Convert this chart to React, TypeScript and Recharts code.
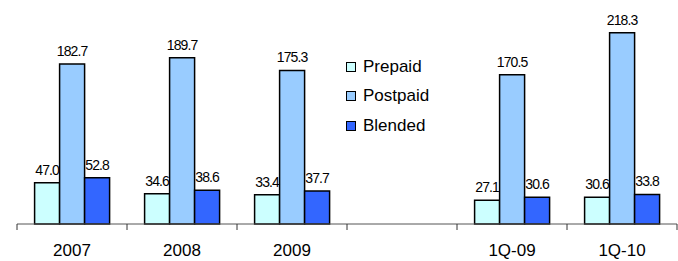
import { BarChart, Bar, XAxis, YAxis, LabelList, Legend } from 'recharts';

const categories = ['2007', '2008', '2009', '', '1Q-09', '1Q-10'];
const prepaid = [47.0, 34.6, 33.4, null, 27.1, 30.6];
const postpaid = [182.7, 189.7, 175.3, null, 170.5, 218.3];
const blended = [52.8, 38.6, 37.7, null, 30.6, 33.8];

const SERIES = [
  { key: 'prepaid', name: 'Prepaid', color: '#CCFFFF' },
  { key: 'postpaid', name: 'Postpaid', color: '#99CCFF' },
  { key: 'blended', name: 'Blended', color: '#3366FF' },
];

const data = categories.map((c, i) => ({
  name: c,
  prepaid: prepaid[i],
  postpaid: postpaid[i],
  blended: blended[i],
}));

const WIDTH = 678;
const HEIGHT = 261;
const MARGIN = { top: 5, right: 1, bottom: 0, left: 17 };
const BAND = (WIDTH - MARGIN.left - MARGIN.right) / categories.length;

const FONT = 'Arial, "Liberation Sans", sans-serif';

function CategoryTick(props: any) {
  const { x, y, payload, index } = props;
  const left = x - BAND / 2;
  const top = y - 8;
  return (
    <g>
      <line x1={left} y1={top} x2={left} y2={top + 6} stroke="#333" strokeWidth={1} />
      {index === categories.length - 1 && (
        <line x1={left + BAND} y1={top} x2={left + BAND} y2={top + 6} stroke="#333" strokeWidth={1} />
      )}
      <text
        x={x}
        y={y + 24}
        textAnchor="middle"
        fontSize={17}
        fontFamily={FONT}
        fill="#000"
      >
        {payload.value}
      </text>
    </g>
  );
}

function ValueLabel(props: any) {
  const { x, y, width, value } = props;
  if (value === null || value === undefined) return null;
  return (
    <text
      x={x + width / 2}
      y={y - 8}
      textAnchor="middle"
      fontSize={14}
      fontFamily={FONT}
      letterSpacing={-0.9}
      fill="#000"
    >
      {Number(value).toFixed(1)}
    </text>
  );
}

function LegendBox() {
  return (
    <div style={{ fontFamily: FONT, fontSize: 17 }}>
      {SERIES.map((s) => (
        <div
          key={s.key}
          style={{ display: 'flex', alignItems: 'center', height: 29.5 }}
        >
          <span
            style={{
              display: 'inline-block',
              width: 8,
              height: 8,
              background: s.color,
              border: '1px solid #000',
              marginRight: 7,
            }}
          />
          <span>{s.name}</span>
        </div>
      ))}
    </div>
  );
}

export default function App() {
  return (
    <div style={{ position: 'absolute', left: 0, top: 0, background: '#fff' }}>
      <BarChart
        width={WIDTH}
        height={HEIGHT}
        data={data}
        margin={MARGIN}
        barCategoryGap="16%"
        barGap={0}
      >
        <XAxis
          dataKey="name"
          axisLine={{ stroke: '#555', strokeWidth: 1 }}
          tickLine={false}
          tick={<CategoryTick />}
          height={37}
          interval={0}
        />
        <YAxis hide width={0} domain={[0, 250]} />
        <Legend
          content={<LegendBox />}
          layout="vertical"
          verticalAlign="middle"
          align="center"
          wrapperStyle={{ left: 346, top: 52, width: 120 }}
        />
        {SERIES.map((s) => (
          <Bar
            key={s.key}
            dataKey={s.key}
            name={s.name}
            fill={s.color}
            stroke="#000"
            strokeWidth={1.5}
            isAnimationActive={false}
          >
            <LabelList dataKey={s.key} content={<ValueLabel />} />
          </Bar>
        ))}
      </BarChart>
    </div>
  );
}
